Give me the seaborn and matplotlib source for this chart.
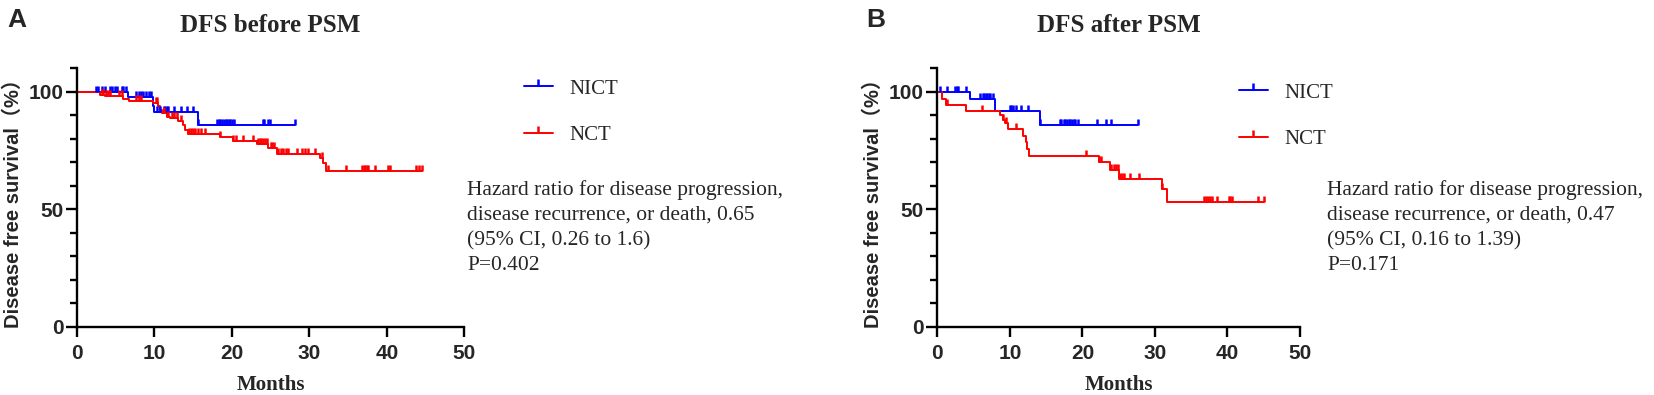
import numpy as np
import pandas as pd
import matplotlib
matplotlib.use("Agg")
import matplotlib.pyplot as plt
import seaborn as sns
from matplotlib.lines import Line2D
from matplotlib.ticker import MultipleLocator

# ---- data (months, % survival) ----
# panel A: before PSM
a_nict_t = [0, 6.6, 9.8, 10.0, 15.6, 28.2]
a_nict_s = [100, 98.0, 94.0, 91.5, 86.1, 86.1]
a_nict_cens = [2.5, 2.8, 3.2, 3.6, 4.3, 4.5, 4.9, 5.2, 5.8, 6.0, 6.4,
               7.7, 8.0, 8.3, 8.6, 8.9, 9.3, 9.6,
               10.3, 10.8, 11.2, 11.4, 11.6, 11.8, 12.5, 13.5, 14.2, 15.0,
               15.7, 18.1, 18.3, 18.5, 18.7, 19.0, 19.2, 19.4, 19.6, 19.8,
               20.0, 20.3, 24.0, 24.2, 24.7, 24.9, 28.2]

a_nct_t = [0, 3.0, 3.6, 6.0, 6.7, 9.9, 10.5, 10.75, 11.0, 11.6, 12.0, 13.1,
           13.7, 14.0, 14.3, 18.5, 20.2, 23.2, 24.7, 25.8, 31.4, 31.8, 32.1,
           44.5]
a_nct_s = [100, 98.8, 98.2, 96.9, 95.9, 95.2, 93.8, 92.3, 90.9, 89.5, 88.8,
           87.4, 86.0, 83.8, 82.0, 81.0, 79.3, 77.9, 76.0, 73.6, 71.8, 69.7,
           66.5, 66.5]
a_nct_cens = [3.2, 3.4, 3.8, 4.0, 4.3, 5.5, 5.8, 7.7, 8.0, 8.3, 10.2, 10.4,
              11.3, 11.8, 12.3, 12.6, 12.9, 13.4, 14.5, 14.8, 15.0, 15.3,
              15.7, 16.0, 16.5, 18.5, 20.2, 20.6, 21.5, 22.8, 23.4, 23.6,
              23.8, 24.0, 24.3, 24.5, 25.0, 25.2, 25.5, 26.0, 26.3, 26.6,
              27.0, 27.3, 28.4, 29.0, 29.5, 29.9, 30.8, 31.6, 32.4, 34.7,
              36.8, 37.0, 37.2, 37.4, 37.6, 38.5, 40.2, 40.4, 43.8, 44.1,
              44.5]

# panel B: after PSM
b_nict_t = [0, 4.5, 7.95, 14.1, 27.6]
b_nict_s = [100, 96.9, 92.0, 85.7, 85.7]
b_nict_cens = [0.4, 1.3, 2.4, 2.7, 2.9, 4.0, 5.9, 6.3, 6.5, 6.7, 6.9, 7.1,
               7.3, 7.7, 10.0, 10.2, 10.5, 10.9, 11.6, 12.5, 14.2, 16.9,
               17.1, 17.4, 17.6, 17.9, 18.1, 18.3, 18.6, 18.8, 19.0, 19.4,
               22.0, 23.2, 24.0, 27.6]

b_nct_t = [0, 0.6, 1.2, 3.95, 8.6, 9.0, 9.3, 9.8, 11.8, 12.2, 12.4, 12.6,
           22.3, 23.8, 25.1, 31.0, 31.7, 45.0]
b_nct_s = [100, 96.9, 94.5, 91.9, 90.2, 88.1, 86.7, 84.1, 81.3, 78.5, 75.5,
           72.8, 70.0, 66.6, 62.8, 58.8, 53.1, 53.1]
b_nct_cens = [1.4, 6.1, 9.1, 9.5, 10.9, 20.5, 22.3, 22.6, 23.9, 24.3, 24.6,
              24.9, 25.2, 25.5, 25.8, 26.6, 27.8, 31.0, 36.7, 37.0, 37.3,
              37.6, 37.8, 38.6, 40.2, 40.4, 40.6, 44.2, 45.0]

groups = ["NICT", "NCT"]
titles = ["DFS before PSM", "DFS after PSM"]
letters = ["A", "B"]
notes = [
    "Hazard ratio for disease progression,\ndisease recurrence, or death, 0.65\n(95% CI, 0.26 to 1.6)\nP=0.402",
    "Hazard ratio for disease progression,\ndisease recurrence, or death, 0.47\n(95% CI, 0.16 to 1.39)\nP=0.171",
]

BLUE = "#0000ff"
RED = "#ff0000"
SANS = ["Liberation Sans", "Noto Sans CJK SC", "DejaVu Sans"]
SERIF = ["Liberation Serif", "DejaVu Serif"]

sns.set_theme(style="ticks")
plt.rcParams["font.family"] = SANS

W, H = 1654, 395
fig = plt.figure(figsize=(W / 100, H / 100), dpi=100)


def px(x, y):
    # pixel (from top-left) -> figure fraction
    return x / W, 1 - y / H


def draw_km(ax, t, s, cens, color):
    t = np.asarray(t, float)
    s = np.asarray(s, float)
    df = pd.DataFrame({"t": t, "s": s})
    sns.lineplot(data=df, x="t", y="s", drawstyle="steps-post", color=color,
                 lw=1.4, errorbar=None, estimator=None, ax=ax)
    c = np.asarray(cens, float)
    idx = np.searchsorted(t, c, side="right") - 1
    cf = pd.DataFrame({"t": c, "s": s[idx]})
    sns.scatterplot(data=cf, x="t", y="s", marker=2, s=18, color=color,
                    linewidth=1.8, ax=ax, zorder=3)


panels = [
    dict(left=76.7, right=464.3, data=[(a_nict_t, a_nict_s, a_nict_cens),
                                       (a_nct_t, a_nct_s, a_nct_cens)],
         letter_x=7, ylab_x=13, leg_x=524, leg_y=79, note_x=467),
    dict(left=937.3, right=1300, data=[(b_nict_t, b_nict_s, b_nict_cens),
                                       (b_nct_t, b_nct_s, b_nct_cens)],
         letter_x=866, ylab_x=873, leg_x=1239, leg_y=83, note_x=1327),
]

top_px, bot_px = 68.3, 327
for i, p in enumerate(panels):
    l, b = px(p["left"], bot_px)
    ax = fig.add_axes([l, b, (p["right"] - p["left"]) / W,
                       (bot_px - top_px) / H])
    for (t, s, cens), col in zip(p["data"], [BLUE, RED]):
        draw_km(ax, t, s, cens, col)

    ax.set_xlim(0, 50)
    ax.set_ylim(0, 110)
    ax.set_xticks([0, 10, 20, 30, 40, 50])
    ax.set_yticks([0, 50, 100])
    ax.yaxis.set_minor_locator(MultipleLocator(10))
    ax.set_xlabel("")
    ax.set_ylabel("")
    sns.despine(ax=ax)
    for sp in ["left", "bottom"]:
        ax.spines[sp].set_linewidth(1.7)
        ax.spines[sp].set_color("black")
    ax.tick_params(axis="x", which="major", length=7, width=1.7, pad=5,
                   labelsize=15, color="black")
    ax.tick_params(axis="y", which="major", length=8, width=1.7, pad=1.5,
                   labelsize=15, color="black")
    ax.tick_params(axis="y", which="minor", length=5, width=1.7, color="black")
    for lab in ax.get_xticklabels() + ax.get_yticklabels():
        lab.set_fontweight("bold")
        lab.set_family(SANS)
    ax.patch.set_alpha(0)

    cx = (p["left"] + p["right"]) / 2
    fig.text(*px(cx, 25), titles[i], ha="center", va="center",
             family=SERIF, fontsize=18, fontweight="bold")
    fig.text(*px(cx, 385), "Months", ha="center", va="center",
             family=SERIF, fontsize=15, fontweight="bold")
    fig.text(*px(p["ylab_x"], 198), "Disease free survival（%）",
             ha="center", va="center", rotation=90, family=SANS,
             fontsize=14.5, fontweight="bold")
    fig.text(*px(p["letter_x"], 20), letters[i], ha="left", va="center",
             family=SANS, fontsize=19, fontweight="bold")
    fig.text(*px(p["note_x"], 180), notes[i], ha="left", va="top",
             family=SERIF, fontsize=15.5, linespacing=1.42)

    handles = [Line2D([], [], color=c, lw=1.4, marker=2, markersize=5,
                      markeredgewidth=1.8) for c in [BLUE, RED]]
    fig.legend(handles, groups, loc="upper left",
               bbox_to_anchor=px(p["leg_x"], p["leg_y"]),
               bbox_transform=fig.transFigure, frameon=False, numpoints=1,
               handlelength=1.38, handletextpad=0.8, labelspacing=1.3,
               borderpad=0, borderaxespad=0,
               prop={"family": SERIF, "size": 15})

fig.savefig("out.png", dpi=100)
